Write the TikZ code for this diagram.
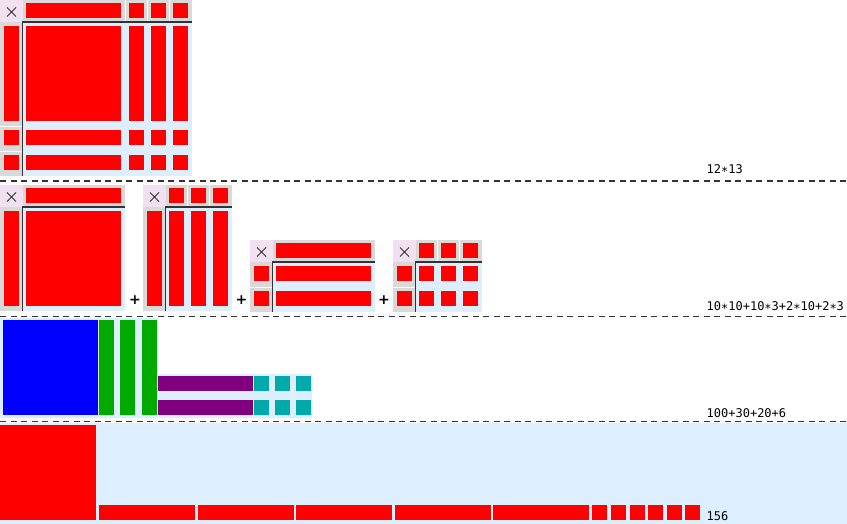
\documentclass[tikz,border=0pt]{standalone}
\usepackage{fontspec}
\newfontfamily\labfont{DejaVu Sans Mono}
\newfontfamily\plusfont{DejaVu Sans}
\definecolor{hdrgray}{HTML}{D9D9D9}
\definecolor{cornerpink}{HTML}{F0E0F0}
\definecolor{bodyblue}{HTML}{DDEEFF}
\definecolor{cellred}{HTML}{FF0000}
\definecolor{hundblue}{HTML}{0000FF}
\definecolor{tengreen}{HTML}{00AA00}
\definecolor{tenpurple}{HTML}{800080}
\definecolor{unitcyan}{HTML}{00AAAA}
\definecolor{linegray}{HTML}{333333}
\tikzset{
  xmarkline/.style={draw=linegray,line width=0.8},
  sepline/.style={draw=white!92!hdrgray,line width=0.9},
  gridline/.style={draw=linegray,line width=1.2},
  dashline/.style={draw=linegray,line width=1.3,dash pattern=on 6 off 4.5},
  sumlabel/.style={anchor=base west,inner sep=0,font=\labfont\fontsize{12}{14}\selectfont},
  plussign/.style={inner sep=0,font=\plusfont\bfseries\fontsize{14}{16}\selectfont}
}
% #1 x0, #2 y0, #3 width, #4 height, #5 column red ranges, #6 row red ranges
\newcommand\numgrid[6]{%
\begin{scope}[shift={(#1,#2)}]
  \fill[hdrgray] (0,0) rectangle (#3,#4);
  \fill[bodyblue] (22.5,22) rectangle (#3,#4);
  \fill[cornerpink] (0,0) rectangle (22.5,22);
  \draw[xmarkline] (7,7.5) -- (16,16.5) (7,16.5) -- (16,7.5);
  \foreach \a/\b in {#5}{%
    \fill[cellred] (\a,3.5) rectangle (\b,18);
    \ifdim\a pt>30pt \draw[sepline] (\a-3.5,0) -- (\a-3.5,22); \fi
  }
  \foreach \c/\d in {#6}{%
    \fill[cellred] (4,\c) rectangle (19,\d);
    \ifdim\c pt>30pt \draw[sepline] (0,\c-4) -- (22.5,\c-4); \fi
  }
  \foreach \a/\b in {#5}{\foreach \c/\d in {#6}{\fill[cellred] (\a,\c) rectangle (\b,\d);}}
  \draw[gridline] (22.5,#4) -- (22.5,22) -- (#3,22);
\end{scope}}
\begin{document}
\begin{tikzpicture}[x=1pt,y=-1pt]
\useasboundingbox (0,0) rectangle (847,524);
\fill[white] (0,0) rectangle (847,524);
% ---- row 1 : 12*13
\numgrid{0}{0}{191.5}{176}{26/121,128.5/143.5,150.5/165.5,172.5/187.5}{26/121,130/145,155/170}
\node[sumlabel] (l1) at (706.5,174) {12∗13};
\draw[dashline] (0,181) -- (847,181);
% ---- row 2 : partial products
\numgrid{0}{185}{125}{126}{26/121}{26/121}
\numgrid{143}{185}{88.5}{126}{26/41,48/63,70/85}{26/121}
\numgrid{250}{240}{125}{72}{26/121}{26/41,51/66}
\numgrid{393}{240}{88.5}{72}{26/41,48/63,70/85}{26/41,51/66}
\node[plussign] (p1) at (135,300) {+};
\node[plussign] (p2) at (241.5,300) {+};
\node[plussign] (p3) at (384,300) {+};
\node[sumlabel] (l2) at (706.5,310.5) {10∗10+10∗3+2∗10+2∗3};
\draw[dashline] (0,316.3) -- (847,316.3);
% ---- row 3 : 100+30+20+6
\fill[bodyblue] (0,318) rectangle (157.5,418);
\fill[bodyblue] (157.5,374) rectangle (312,418);
\fill[hundblue] (3,320) rectangle (98,415);
\foreach \x in {99,120,142}{\fill[tengreen] (\x,320) rectangle (\x+15,415);}
\foreach \y in {376,400}{%
  \fill[tenpurple] (158,\y) rectangle (253,\y+15);
  \foreach \x in {254,275,296}{\fill[unitcyan] (\x,\y) rectangle (\x+15,\y+15);}
}
\node[sumlabel] (l3) at (706.5,417.5) {100+30+20+6};
\draw[dashline] (0,421.3) -- (847,421.3);
% ---- row 4 : 156
\fill[bodyblue] (0,422.5) rectangle (847,524);
\fill[cellred] (0,425) rectangle (96,520);
\foreach \x in {99,198,296,395,493}{\fill[cellred] (\x,505) rectangle (\x+95.5,520);}
\foreach \x in {592,611,629.5,648,666.5,685}{\fill[cellred] (\x,505) rectangle (\x+15,520);}
\node[sumlabel] (l4) at (706.5,520.5) {156};
\end{tikzpicture}
\end{document}
